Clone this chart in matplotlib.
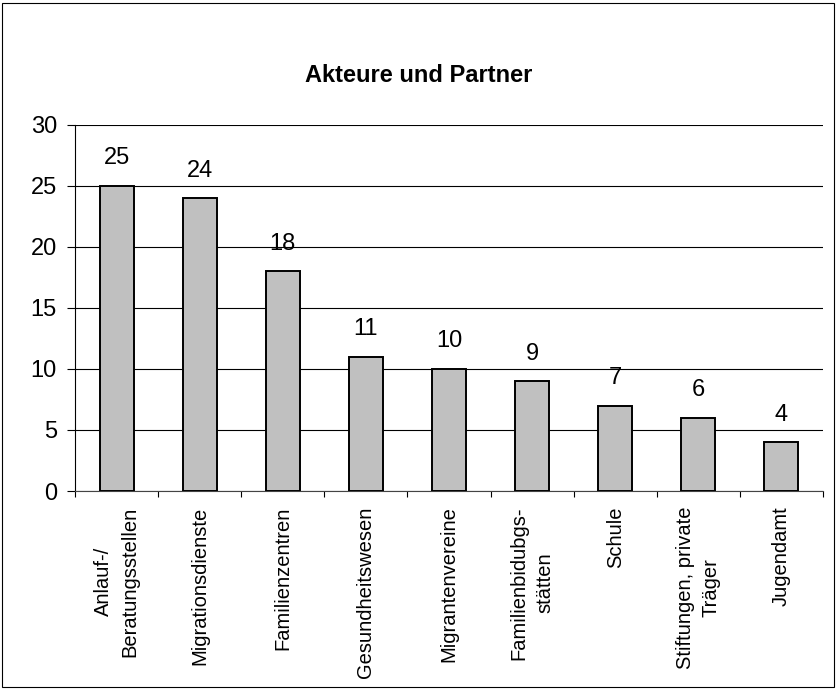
import numpy as np
import matplotlib
matplotlib.use('Agg')
import matplotlib.pyplot as plt
from matplotlib.patches import Rectangle

plt.rcParams['font.family'] = ['Liberation Sans', 'DejaVu Sans']

# data
categories = ['Anlauf-/\nBeratungsstellen', 'Migrationsdienste', 'Familienzentren',
              'Gesundheitswesen', 'Migrantenvereine', 'Familienbidubgs-\nstätten',
              'Schule', 'Stiftungen, private\nTräger', 'Jugendamt']
values = [25, 24, 18, 11, 10, 9, 7, 6, 4]
yticks = [0, 5, 10, 15, 20, 25, 30]
title = 'Akteure und Partner'

fig = plt.figure(figsize=(8.37, 6.90), dpi=100)
ax = fig.add_axes([75/837, 1-491/690, (823-75)/837, (491-125)/690])

x = np.arange(len(categories))
bars = ax.bar(x, values, width=0.41, color='#c0c0c0', edgecolor='black', linewidth=1.4, zorder=3)
ax.bar_label(bars, labels=[str(v) for v in values], padding=12, fontsize=17)

ax.set_xlim(-0.5, len(categories) - 0.5)
ax.set_ylim(0, 30)
ax.set_yticks(yticks)
ax.tick_params(axis='y', labelsize=17, length=6, width=0.8, pad=7, direction='out')
ax.yaxis.grid(True, color='black', linewidth=0.8, zorder=0)
ax.set_axisbelow(True)

# ticks between categories, labels at centers
ax.set_xticks(np.arange(len(categories) + 1) - 0.5)
ax.set_xticklabels([''] * (len(categories) + 1))
ax.set_xticks(x, minor=True)
ax.set_xticklabels(categories, minor=True, rotation=90, fontsize=14.5, va='top', ha='center',
                   linespacing=1.45)
ax.tick_params(axis='x', which='major', length=4, width=0.8, direction='out')
ax.tick_params(axis='x', which='minor', length=0, pad=11)

for s in ['top', 'right']:
    ax.spines[s].set_visible(False)
ax.spines['left'].set_linewidth(0.8)
ax.spines['bottom'].set_linewidth(0.8)
ax.spines['bottom'].set_color('#444444')

fig.text(0.5, 1 - 76/690, title, ha='center', va='center', fontsize=17, fontweight='bold')

# border around chart
fig.patches.append(Rectangle((2/837, 3/690), 832/837, 684/690, transform=fig.transFigure,
                             fill=False, edgecolor='black', linewidth=0.8))

fig.savefig('out.png', dpi=100)
